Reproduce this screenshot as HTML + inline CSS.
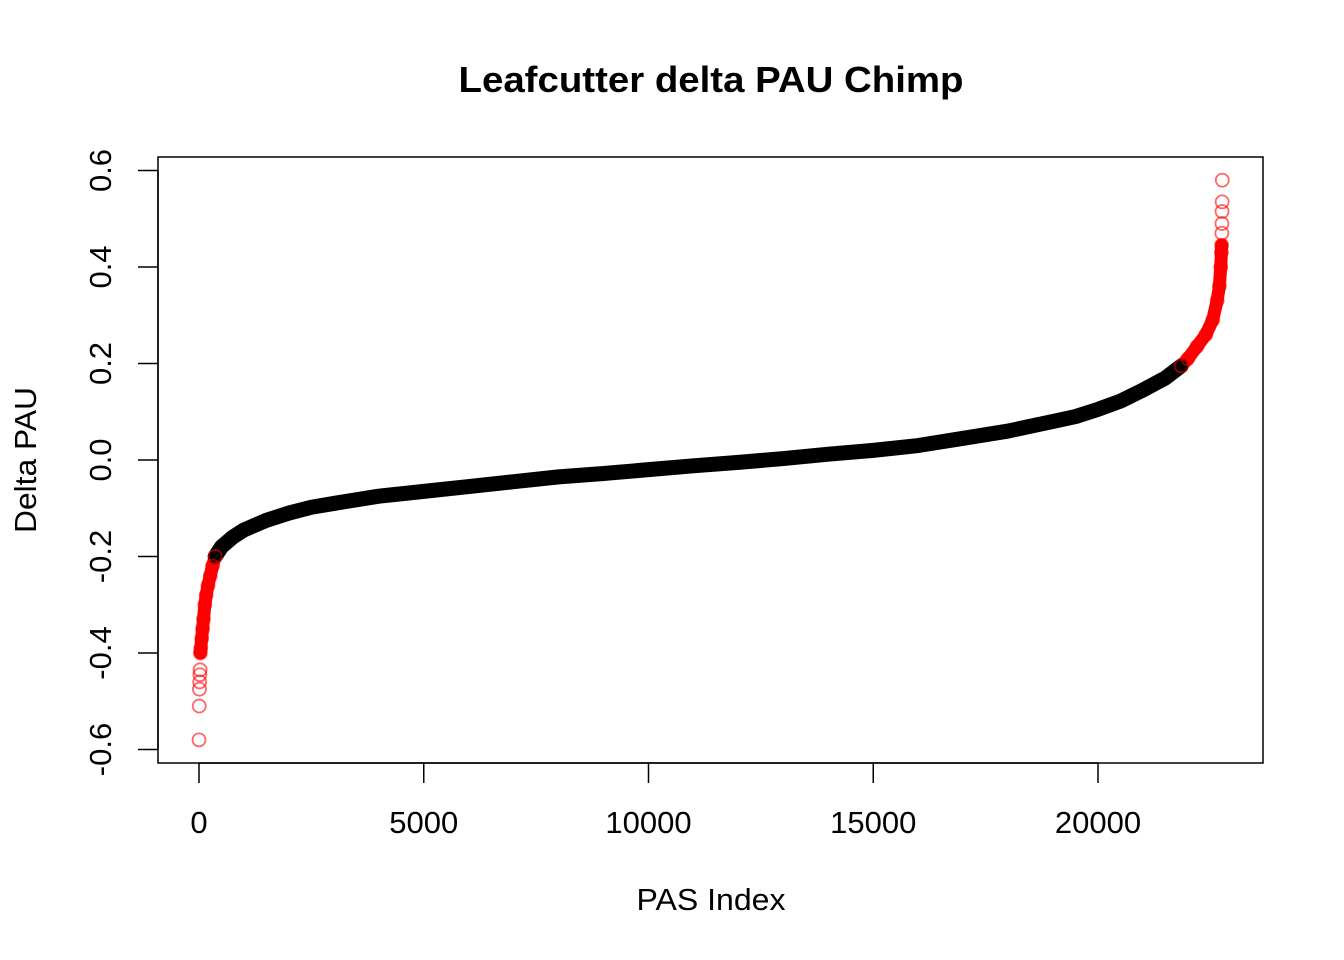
<!DOCTYPE html>
<html><head><meta charset="utf-8"><style>
html,body{margin:0;padding:0;background:#fff;}
svg{display:block;font-family:"Liberation Sans",sans-serif;}
</style></head><body>
<svg id="chart" width="1344" height="960">
<text x="711" y="92" text-anchor="middle" font-size="36" font-weight="bold" textLength="505" lengthAdjust="spacingAndGlyphs">Leafcutter delta PAU Chimp</text>
<rect x="158" y="157" width="1105" height="606" fill="none" stroke="#000" stroke-width="1.5"/>
<text x="711" y="910" text-anchor="middle" font-size="31" textLength="149" lengthAdjust="spacingAndGlyphs">PAS Index</text>
<text transform="translate(36,460) rotate(-90)" text-anchor="middle" font-size="31" textLength="146" lengthAdjust="spacingAndGlyphs">Delta PAU</text>
<g id="axes"></g>
<g id="marks"></g>
</svg>
<script>
const xTicks=[0,5000,10000,15000,20000];
const yTicks=[-0.6,-0.4,-0.2,0.0,0.2,0.4,0.6];
const yTickLabels=["-0.6","-0.4","-0.2","0.0","0.2","0.4","0.6"];
const lowIdx=[0,5,10,15,20,25,30,40,60,80,100,130,160,200,250,300,360];
const lowVal=[-0.58,-0.51,-0.475,-0.46,-0.445,-0.435,-0.40,-0.39,-0.37,-0.35,-0.33,-0.30,-0.28,-0.26,-0.24,-0.22,-0.20];
const midIdx=[360,500,750,1000,1500,2000,2500,3000,4000,5000,6000,7000,8000,9000,10000,11000,12000,13000,14000,15000,16000,17000,18000,19000,19500,20000,20500,21000,21500,21850];
const midVal=[-0.20,-0.18,-0.16,-0.145,-0.125,-0.11,-0.098,-0.09,-0.075,-0.065,-0.055,-0.045,-0.035,-0.028,-0.02,-0.012,-0.005,0.003,0.012,0.02,0.03,0.045,0.06,0.08,0.09,0.105,0.122,0.145,0.17,0.195];
const highIdx=[21850,22000,22200,22400,22550,22650,22700,22730,22745,22750,22755,22758,22760,22762,22765];
const highVal=[0.195,0.21,0.235,0.26,0.29,0.33,0.36,0.40,0.43,0.445,0.47,0.49,0.515,0.535,0.58];
const NS="http://www.w3.org/2000/svg";
const X=v=>199+v*0.04495;
const Y=v=>460-v*482.5;
const axes=document.getElementById('axes'),marks=document.getElementById('marks');
function mk(tag,at,parent){const e=document.createElementNS(NS,tag);for(const k in at)e.setAttribute(k,at[k]);parent.appendChild(e);return e;}
let l=mk('line',{x1:X(0),x2:X(20000),y1:763,y2:763,stroke:'#000','stroke-width':1.5},axes);


xTicks.forEach(t=>{
 const tk=mk('line',{x1:X(t),x2:X(t),y1:763,y2:783,stroke:'#000','stroke-width':1.5},axes);
 
 
 const tx=mk('text',{x:X(t),y:833,'text-anchor':'middle','font-size':31},axes);
 tx.textContent=t;
 
 
});
l=mk('line',{x1:158,x2:158,y1:Y(-0.6),y2:Y(0.6),stroke:'#000','stroke-width':1.5},axes);


yTicks.forEach((t,i)=>{
 const tk=mk('line',{x1:138,x2:158,y1:Y(t),y2:Y(t),stroke:'#000','stroke-width':1.5},axes);
 
 
 const tx=mk('text',{transform:`translate(111,${Y(t)}) rotate(-90)`,'text-anchor':'middle','font-size':31},axes);
 tx.textContent=yTickLabels[i];
 
 
});
function poly(idx,val,color,w,filt){
 const pts=idx.map((d,i)=>[d,val[i]]).filter(filt).map(p=>X(p[0])+','+Y(p[1])).join(' ');
 const p=mk('polyline',{points:pts,fill:'none',stroke:color,'stroke-width':w,'stroke-linecap':'round','stroke-linejoin':'round'},marks);
 
 
}
poly(lowIdx,lowVal,'#ff0000',13,p=>p[1]>-0.43);
poly(highIdx,highVal,'#ff0000',13,p=>p[1]<0.45);
poly(midIdx,midVal,'#000',15,()=>true);
midIdx.forEach((d,i)=>{
 const c=mk('circle',{cx:X(d),cy:Y(midVal[i]),r:7,fill:'#000'},marks);
 
 
});
[[lowIdx,lowVal],[highIdx,highVal]].forEach(([ix,vs])=>ix.forEach((d,i)=>{
 const c=mk('circle',{cx:X(d),cy:Y(vs[i]),r:6.5,fill:'none',stroke:'rgba(255,0,0,0.6)','stroke-width':1.8},marks);
 
 
}));
</script>
</body></html>
